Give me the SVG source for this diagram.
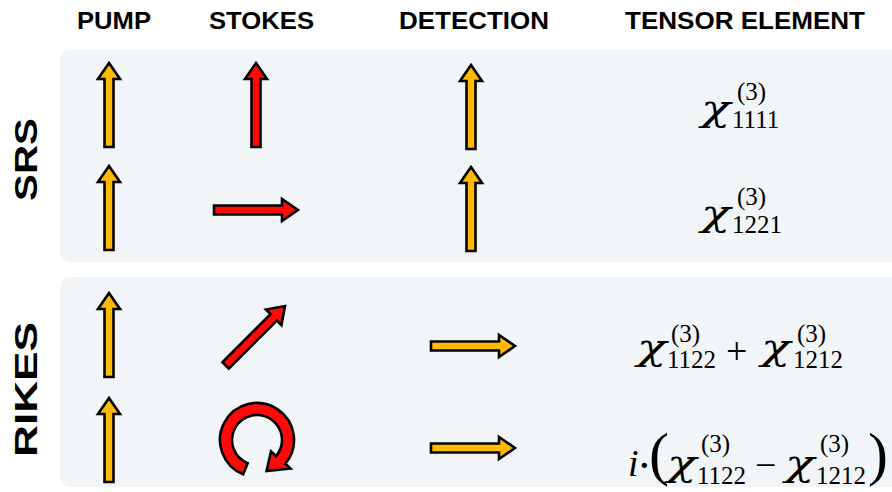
<svg xmlns="http://www.w3.org/2000/svg" xmlns:xlink="http://www.w3.org/1999/xlink" width="892" height="492" viewBox="0 0 892 492">
<style>
.hdr{font-family:"Liberation Sans",Arial,sans-serif;font-weight:bold;font-size:23px;fill:#000}
.side{font-family:"Liberation Sans",Arial,sans-serif;font-weight:bold;font-size:31px;fill:#000}
.panel{fill:#f1f5f8}
.amber{fill:#ffba00;stroke:#000;stroke-width:2.6;stroke-linejoin:miter}
.red{fill:#ff0a0a;stroke:#000;stroke-width:2.6;stroke-linejoin:miter}
.chi{font-family:"DejaVu Serif","Liberation Serif",serif;font-style:italic;font-size:36px;fill:#000}
.ii{font-family:"Liberation Serif","Times New Roman",serif;font-style:italic;font-size:38px;fill:#000}
.idx{font-family:"Liberation Serif","Times New Roman",serif;font-size:25px;fill:#000}
.op{font-family:"Liberation Serif","Times New Roman",serif;font-size:38px;fill:#000}
.par{font-family:"Liberation Serif","Times New Roman",serif;font-size:60px;fill:#000}
</style>
<defs>
<path id="arr" d="M0,0 L11,16 L4.5,16 L4.5,84 L-4.5,84 L-4.5,16 L-11,16 Z"/>
</defs>
<rect x="0" y="0" width="892" height="492" fill="#fff"/>
<g id="headers">
<text class="hdr" x="77" y="29" textLength="74" lengthAdjust="spacingAndGlyphs">PUMP</text>
<text class="hdr" x="209" y="29" textLength="105" lengthAdjust="spacingAndGlyphs">STOKES</text>
<text class="hdr" x="399" y="29" textLength="150" lengthAdjust="spacingAndGlyphs">DETECTION</text>
<text class="hdr" x="625" y="29" textLength="240" lengthAdjust="spacingAndGlyphs">TENSOR ELEMENT</text>
</g>
<g id="srs-panel">
<rect class="panel" x="60" y="50" width="850" height="212" rx="10"/>
<text class="side" transform="translate(37,201) rotate(-90)" textLength="83" lengthAdjust="spacingAndGlyphs">SRS</text>
</g>
<g id="rikes-panel">
<rect class="panel" x="60" y="277" width="850" height="210" rx="10"/>
<text class="side" transform="translate(37,457) rotate(-90)" textLength="135" lengthAdjust="spacingAndGlyphs">RIKES</text>
</g>
<g id="srs-row1">
<use xlink:href="#arr" class="amber" transform="translate(109,63)"/>
<use xlink:href="#arr" class="red" transform="translate(256,63)"/>
<use xlink:href="#arr" class="amber" transform="translate(471,65)"/>
<text class="chi" transform="translate(701,121) scale(1.35,1)">χ</text>
<text class="idx" x="737" y="100">(3)</text>
<text class="idx" x="732" y="128">1111</text>
</g>
<g id="srs-row2">
<use xlink:href="#arr" class="amber" transform="translate(109,166)"/>
<use xlink:href="#arr" class="red" transform="translate(298,210) rotate(90)"/>
<use xlink:href="#arr" class="amber" transform="translate(471,167)"/>
<text class="chi" transform="translate(701,226) scale(1.35,1)">χ</text>
<text class="idx" x="737" y="205">(3)</text>
<text class="idx" x="732" y="233">1221</text>
</g>
<g id="rikes-row1">
<use xlink:href="#arr" class="amber" transform="translate(109,293)"/>
<use xlink:href="#arr" class="red" transform="translate(285,306) rotate(45)"/>
<use xlink:href="#arr" class="amber" transform="translate(515,346) rotate(90)"/>
<text class="chi" transform="translate(637,360) scale(1.35,1)">χ</text>
<text class="idx" x="671" y="342">(3)</text>
<text class="idx" x="667" y="368">1122</text>
<text class="op" x="726" y="364">+</text>
<text class="chi" transform="translate(761,360) scale(1.35,1)">χ</text>
<text class="idx" x="797" y="342">(3)</text>
<text class="idx" x="793" y="368">1212</text>
</g>
<g id="rikes-row2">
<use xlink:href="#arr" class="amber" transform="translate(109,398)"/>
<path class="red" d="M247.63,463.18 L243.14,474.31 A37,37 0 1 1 285.34,463.78 L290.5,468.5 L266.58,471 L271,451.5 L276.15,456.07 A25,25 0 1 0 247.63,463.18 Z"/>
<use xlink:href="#arr" class="amber" transform="translate(515,448) rotate(90)"/>
<text class="ii" x="628" y="476">i</text>
<text class="op" x="637" y="480" style="font-size:44px">·</text>
<text class="par" x="649" y="474">(</text>
<text class="chi" transform="translate(667,476) scale(1.35,1)">χ</text>
<text class="idx" x="701" y="452">(3)</text>
<text class="idx" x="697" y="484">1122</text>
<text class="op" x="755" y="478">−</text>
<text class="chi" transform="translate(785,476) scale(1.35,1)">χ</text>
<text class="idx" x="820" y="452">(3)</text>
<text class="idx" x="816" y="484">1212</text>
<text class="par" x="868" y="474">)</text>
</g>
</svg>
